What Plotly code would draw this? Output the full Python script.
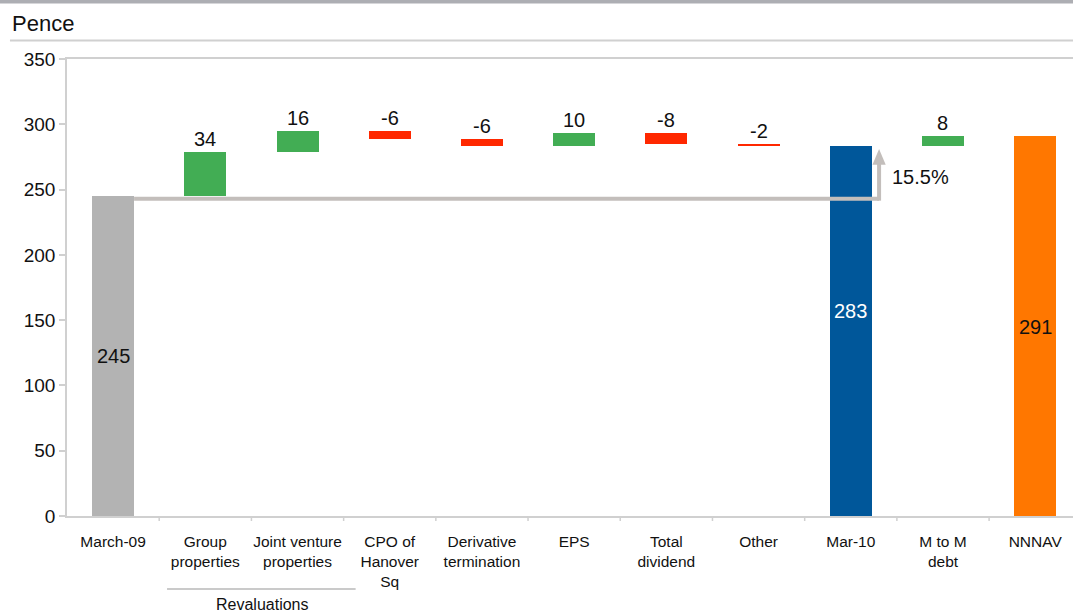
import plotly.graph_objects as go

# Net asset value bridge, March 2009 to March 2010 (pence per share)
categories = ["March-09", "Group<br>properties", "Joint venture<br>properties",
              "CPO of<br>Hanover<br>Sq", "Derivative<br>termination", "EPS",
              "Total<br>dividend", "Other", "Mar-10", "M to M<br>debt", "NNNAV"]
# value of each step; "total" steps are absolute levels, others are movements
values = [245, 34, 16, -6, -6, 10, -8, -2, 283, 8, 291]
kinds = ["total", "delta", "delta", "delta", "delta", "delta", "delta", "delta",
         "total", "delta", "total"]
total_colors = {0: "#B3B3B3", 8: "#00579A", 10: "#FF7700"}
up_color = "#42AD54"
down_color = "#FF2800"
growth_label = "15.5%"

FONT = "Liberation Sans, Arial, Helvetica, sans-serif"
TEXT = "#111111"
AXIS = "#D0D0D0"

# floating bar geometry built from the running total
bases, heights, colors = [], [], []
level = 0
for i, (v, k) in enumerate(zip(values, kinds)):
    if k == "total":
        bases.append(0)
        heights.append(v)
        colors.append(total_colors[i])
        level = v
    else:
        start = level
        level = level + v
        bases.append(min(start, level))
        heights.append(abs(v))
        colors.append(up_color if v > 0 else down_color)

x = list(range(len(categories)))
bar_w = 0.455

fig = go.Figure(go.Bar(
    x=x, y=heights, base=bases, width=bar_w,
    marker=dict(color=colors, line=dict(width=0)),
    hoverinfo="skip",
))

annotations = []
# value labels
total_label_y = {0: values[0] / 2, 8: 157, 10: 145}
total_label_color = {0: TEXT, 8: "white", 10: TEXT}
for i, (v, k) in enumerate(zip(values, kinds)):
    if k == "total":
        annotations.append(dict(x=i, y=total_label_y[i], text=str(v), showarrow=False,
                                xanchor="center", yanchor="middle",
                                font=dict(size=20, color=total_label_color[i], family=FONT)))
    else:
        annotations.append(dict(x=i, y=bases[i] + heights[i], text=str(v), showarrow=False,
                                xanchor="center", yanchor="middle", yshift=13,
                                font=dict(size=20, color=TEXT, family=FONT)))

annotations += [
    dict(x=8.43, y=260, text=growth_label, showarrow=False, xanchor="left",
         yanchor="middle", font=dict(size=20, color=TEXT, family=FONT)),
    dict(xref="paper", yref="paper", x=-0.0567, y=1.0766, text="Pence",
         showarrow=False, xanchor="left", yanchor="middle",
         font=dict(size=22, color=TEXT, family=FONT)),
    dict(x=1.62, yref="paper", y=-0.194, text="Revaluations", showarrow=False,
         xanchor="center", yanchor="middle", font=dict(size=16, color=TEXT, family=FONT)),
]

shapes = []
# category boundary ticks under the x axis
for k in range(len(categories) - 1):
    shapes.append(dict(type="line", xref="x", yref="paper", x0=k + 0.5, x1=k + 0.5,
                       y0=0, y1=-0.011, line=dict(color=AXIS, width=1.5)))

# growth connector from the opening level to the closing bar
conn_color = "#C3BEBB"
lvl0 = values[0] - 2
lvl1 = values[8] - 2
x_turn = 8.307
shapes.append(dict(type="line", x0=bar_w / 2, x1=x_turn, y0=lvl0, y1=lvl0,
                   line=dict(color=conn_color, width=4)))
shapes.append(dict(type="line", x0=x_turn, x1=x_turn, y0=lvl0 - 1.5, y1=lvl1 - 11,
                   line=dict(color=conn_color, width=4)))
shapes.append(dict(type="path",
                   path=f"M {x_turn - 0.072},{lvl1 - 12} L {x_turn + 0.072},{lvl1 - 12} L {x_turn},{lvl1} Z",
                   fillcolor=conn_color, line=dict(width=0)))

# bracket under the revaluation categories
shapes.append(dict(type="line", xref="x", yref="paper", x0=0.585, x1=2.63,
                   y0=-0.16, y1=-0.16, line=dict(color="#B8B8B8", width=1.5)))

# header band and rule under the unit title
shapes.append(dict(type="rect", xref="paper", yref="paper", x0=-0.07, x1=1.0,
                   y0=1.1215, y1=1.13, fillcolor="#ADAEB3", line=dict(width=0)))
shapes.append(dict(type="line", xref="paper", yref="paper", x0=-0.0567, x1=1.0,
                   y0=1.0405, y1=1.0405, line=dict(color=AXIS, width=2)))

fig.update_layout(
    width=1073, height=614,
    margin=dict(l=67, r=0, t=59, b=98),
    paper_bgcolor="white", plot_bgcolor="white",
    showlegend=False,
    bargap=0,
    annotations=annotations,
    shapes=shapes,
    font=dict(family=FONT, color=TEXT),
)
fig.update_xaxes(
    range=[-0.5, 10.41], tickmode="array", tickvals=x, ticktext=categories,
    ticks="", ticklabelstandoff=10, showgrid=False, zeroline=False,
    showline=True, mirror=True, linecolor=AXIS, linewidth=2,
    tickfont=dict(size=15.5, color=TEXT, family=FONT),
)
fig.update_yaxes(
    range=[0, 350], tickmode="array", tickvals=list(range(0, 351, 50)),
    ticks="outside", ticklen=6, tickcolor=AXIS, tickwidth=1.5,
    showgrid=False, zeroline=False, showline=True, linecolor=AXIS, linewidth=1.5,
    tickfont=dict(size=19, color=TEXT, family=FONT),
)

fig.write_html("out.html")
